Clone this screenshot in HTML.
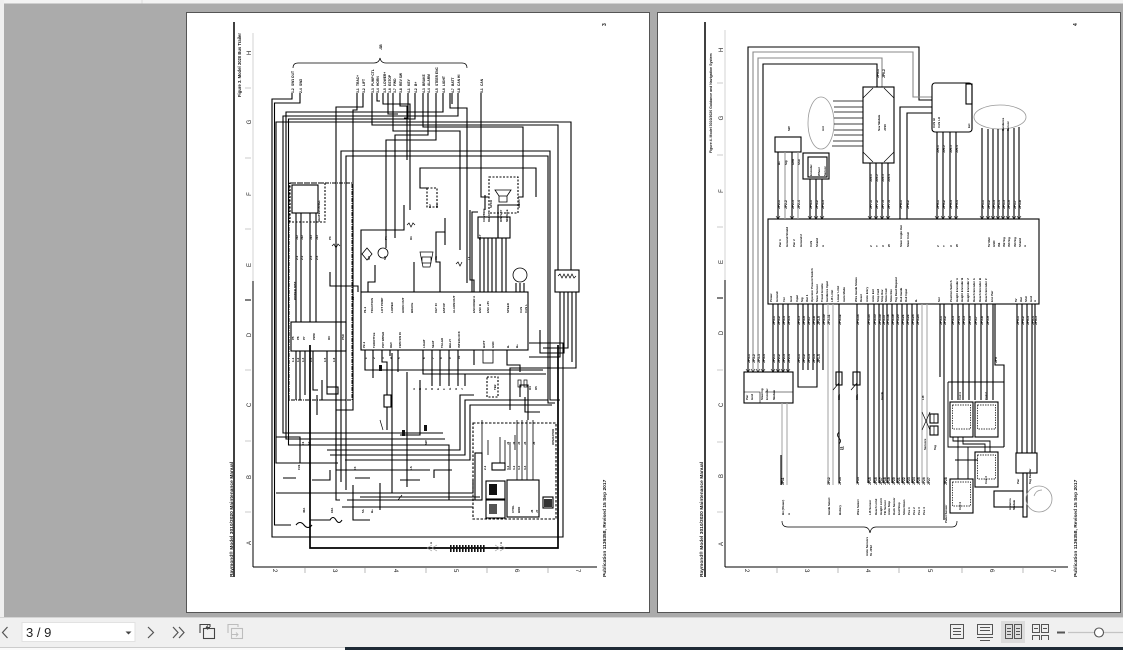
<!DOCTYPE html>
<html><head><meta charset="utf-8">
<style>
html,body{margin:0;padding:0;width:1123px;height:650px;overflow:hidden;background:#ababab;}
svg{display:block;}
text{font-family:"Liberation Sans",sans-serif;}
.t{font-size:3.3px;fill:#000;font-weight:bold;}
.s{font-size:2.9px;fill:#000;font-weight:bold;}
</style></head><body>
<svg width="1123" height="650" viewBox="0 0 1123 650" xmlns="http://www.w3.org/2000/svg">
<rect width="1123" height="650" fill="#ababab"/>
<rect x="0" y="0" width="1123" height="3.5" fill="#f3f3f3"/>
<rect x="0" y="0" width="4" height="617" fill="#efefef"/>
<line x1="142" y1="0" x2="142" y2="3.5" stroke="#ddd"/>

<!-- PAGES -->
<rect x="186.5" y="12.5" width="463" height="600" fill="#fff" stroke="#555"/>
<rect x="657.5" y="12.5" width="463" height="600" fill="#fff" stroke="#555"/>

<!-- ================= LEFT PAGE ================= -->
<g stroke="#000" fill="none">
<line x1="234" y1="22" x2="234" y2="577" stroke-width="1.5"/>
<line x1="253" y1="33" x2="253" y2="281" stroke="#c8c8c8" stroke-width="0.8"/>
<line x1="253" y1="281" x2="253" y2="567" stroke-width="1"/>
<line x1="253" y1="567" x2="597" y2="567" stroke-width="1"/>
<path d="M245 88H251M245 158H251M245 229H251M245 370H251M245 441H251M245 512H251" stroke="#bbb" stroke-width="0.8"/>
<path d="M245 300H251" stroke-width="1"/>
<path d="M305 568V573M365 568V573M426 568V573M487 568V573M548 568V573" stroke="#aaa" stroke-width="0.8"/>
</g>
<g font-size="6" fill="#222">
<text transform="translate(251,53) rotate(-90)" text-anchor="middle">H</text>
<text transform="translate(251,122) rotate(-90)" text-anchor="middle">G</text>
<text transform="translate(251,194) rotate(-90)" text-anchor="middle">F</text>
<text transform="translate(251,265) rotate(-90)" text-anchor="middle">E</text>
<text transform="translate(251,335) rotate(-90)" text-anchor="middle">D</text>
<text transform="translate(251,405) rotate(-90)" text-anchor="middle">C</text>
<text transform="translate(251,477) rotate(-90)" text-anchor="middle">B</text>
<text transform="translate(251,543) rotate(-90)" text-anchor="middle">A</text>
<text transform="translate(273,569) rotate(90)">2</text>
<text transform="translate(333,569) rotate(90)">3</text>
<text transform="translate(394,569) rotate(90)">4</text>
<text transform="translate(454,569) rotate(90)">5</text>
<text transform="translate(515,569) rotate(90)">6</text>
<text transform="translate(576,569) rotate(90)">7</text>
</g>
<text transform="translate(241,97) rotate(-90)" font-size="4.2" font-weight="bold" fill="#111">Figure 3. Model 3020 Bus Trailer</text>
<text transform="translate(233,577) rotate(-90)" font-size="4.9" font-weight="bold" fill="#111">Raymond® Model 3010/3020 Maintenance Manual</text>
<text transform="translate(606,577) rotate(-90)" font-size="4.9" font-weight="bold" fill="#111">Publication 1136358, Revised 15 Sep 2017</text>
<text transform="translate(606,26) rotate(-90)" font-size="5" font-weight="bold" fill="#111">3</text>

<!-- left diagram wires -->
<g stroke="#000" stroke-width="1.1" fill="none">
<path d="M293 68Q293 63 298 63H374Q379 63 380 58Q381 63 386 63H462Q467 63 467 68" stroke-width="0.7"/>
<path d="M292 93V99H272V537H563V343H529"/>
<path d="M300 93V103H274.5V525H291"/>
<path d="M458 93V116H283V433H443"/>
<path d="M571 270V122H276V463H338"/>
<path d="M443 93V112H286V439H445"/>
<path d="M372 93V125H558V270"/>
<path d="M415 93V119H288.5V445H449V500"/>
<path d="M357 93V110H353V410H336"/>
<path d="M363 93V107H336V470H430"/>
<path d="M341 482V151H550V400H560"/>
<path d="M346 490V156H548V403H555"/>
<path d="M423 93V127H523V197H518"/>
<path d="M428 93V135H395V238"/>
<path d="M436 93V140H386V248"/>
<path d="M450 93V108H467V283"/>
<path d="M481 93V197H489"/>
<path d="M536 197V168H420V188H427"/>
<path d="M377 93V101H380"/>
<path d="M383 93V104H410V210"/>
<path d="M388 93V114H398"/>
<path d="M393 93V131H460V250"/>
<path d="M400 93V106H407V160"/>
<path d="M408 93V118H404"/>
<path d="M452 93V104"/>
<!-- mid region -->
<path d="M361 292V230H404V205"/>
<path d="M358 292V286H330V272"/>
<path d="M368 292V282H375V265"/>
<path d="M414 292V262"/>
<path d="M440 292V262H436V232H445V218"/>
<path d="M472 292V212H478"/>
<path d="M485 195V210M498 217V205H520"/>
<path d="M445 245V232"/>
<path d="M474 292V280H470V210"/>
<path d="M480 238V292M484 238V292M488 238V292M492 238V292M496 238V292M502 238V292M506 238V292"/>
<path d="M560 292V357H529M564 292V353H540V330M568 292V348H543M572 292V362M576 292V368H510V395"/>
<path d="M516 283V292M520 283V292M524 283V292"/>
<path d="M296 213V322M301 213V322M310 213V322M316 213V322"/>
<path d="M296 351V400M300 351V400M305 351V395M313 351V390H318M327 351V387M336 351V380"/>
<path d="M322 380V400H345M317 395V415"/>
<!-- below main box -->
<path d="M365 350V370H543"/>
<path d="M373 350V378"/>
<path d="M382 350V362H387V395"/>
<path d="M390 350V356M398 350V372M407 372V487"/>
<path d="M423 350V374H546"/>
<path d="M432 350V386M440 350V386M449 350V386M458 350V386M465 374V386"/>
<path d="M392 353V493"/>
<path d="M387 407V430"/>
<path d="M420 380V435H400"/>
<path d="M474 350V365M507 350V365H520V372"/>
<path d="M327 450H460V395H474"/>
<path d="M330 455H465V400H548"/>
<path d="M345 460H470V405H552"/>
<path d="M276 437H300V463"/>
<path d="M276 493H473V480"/>
<path d="M360 497H480"/>
<path d="M347 500H482"/>
<path d="M342 507H473"/>
<path d="M296 463H338"/>
<path d="M520 397V385H528V420M510 395V410M525 397V412H540"/>
<path d="M312 480H330V470M355 478H370M400 480H420"/>
<path d="M353 485V520H370M380 483V510"/>
<path d="M434 478V470H452"/>
<path d="M310 345V548H558V345" stroke-width="1.7"/>
<path d="M336 380V500H340"/>
<path d="M283 478H296M296 525Q300 520 304 525Q308 530 312 525"/>
<path d="M310 520H330Q333 515 336 520Q339 525 342 520"/>
<path d="M427 548L432 545M427 548L432 551M432 548L437 545M432 548L437 551" stroke="#999" stroke-width="0.6"/>
<path d="M495 545L500 548L495 551M500 545L505 548L500 551" stroke="#999" stroke-width="0.6"/>
<!-- boxes -->
<rect x="290" y="183" width="35" height="39" stroke-dasharray="2,1.5"/>
<rect x="292" y="185" width="26" height="28"/>
<path d="M290 183H352V400H289V183" stroke-dasharray="4,1,1,1" stroke-width="0.9"/>
<rect x="291" y="322" width="55" height="29"/>
<rect x="327" y="387" width="11" height="7"/>
<rect x="384" y="395" width="7" height="12"/>
<rect x="361" y="292" width="167" height="58"/>
<rect x="555" y="270" width="24" height="22"/>
<path d="M558 276l2 -2l2 4l2 -4l2 4l2 -4l2 4l2 -4l2 4l2 -2" stroke-width="0.7"/>
<circle cx="520" cy="275" r="7" stroke-width="0.8"/>
<rect x="478" y="217" width="20" height="21"/>
<rect x="498" y="217" width="12" height="21"/>
<rect x="489" y="177" width="29" height="36" stroke-dasharray="2,1.5"/>
<path d="M495 190H511L507 196H499Z M499 196H507V202H499Z" stroke-width="0.8"/>
<rect x="427" y="188" width="10" height="19" stroke-dasharray="2,1.5"/>
<circle cx="383" cy="253" r="5" stroke-width="0.8"/>
<path d="M367 248L372 254L367 260L362 254Z" stroke-width="0.8"/>
<path d="M420 252H433L430 267H423Z M422 257H431V263H422Z" stroke-width="0.7"/>
<path d="M332 246l2 -2l2 4l2 -4l2 2" stroke-width="0.7"/>
<path d="M407 225l2 -2l2 4l2 -4l2 2M456 264l2 -2l2 4l2 -4" stroke-width="0.7"/>
<rect x="483" y="350" width="10" height="13" stroke-width="0.8"/>
<rect x="487" y="377" width="11" height="20" stroke-dasharray="2,1.5"/>
<rect x="518" y="380" width="3" height="7" stroke-width="0.7"/>
<rect x="524" y="380" width="3" height="7" stroke-width="0.7"/>
<rect x="473" y="423" width="83" height="96" stroke-dasharray="2.5,1.5"/>
<rect x="507" y="480" width="32" height="37"/>
<rect x="486" y="481" width="19" height="18"/>
<rect x="486" y="500" width="19" height="18"/>
<rect x="475" y="453" width="7" height="47"/>
<rect x="492" y="463" width="13" height="7"/>
<rect x="543" y="497" width="10" height="11"/>
<path d="M482 420V470M488 440V455M500 437V463M505 440V463M510 442V470M517 420V480M522 420V480M527 420V480M533 420V480M515 435V450" stroke-width="0.8"/>
<path d="M380 420L383 430M398 500L402 495" stroke-width="0.7"/>
</g>
<g fill="#111">
<rect x="489" y="484" width="8" height="11"/>
<rect x="489" y="504" width="8" height="10" fill="#555"/>
<rect x="544" y="499" width="8" height="8" fill="#333"/>
<rect x="450" y="545" width="1.6" height="7"/><rect x="453" y="545" width="1.6" height="7"/><rect x="456" y="545" width="1.6" height="7"/><rect x="459" y="545" width="1.6" height="7"/><rect x="462" y="545" width="1.6" height="7"/><rect x="465" y="545" width="1.6" height="7"/><rect x="468" y="545" width="1.6" height="7"/><rect x="471" y="545" width="1.6" height="7"/><rect x="474" y="545" width="1.6" height="7"/><rect x="477" y="545" width="1.6" height="7"/><rect x="480" y="545" width="1.6" height="7"/><rect x="483" y="545" width="1.6" height="7"/>
<rect x="379" y="365" width="3" height="6"/><rect x="402" y="430" width="3" height="6"/><rect x="424" y="425" width="3" height="6"/>
</g>
<!-- left labels -->
<text class="t" transform="translate(0,86) rotate(-90)"><tspan x="0" y="294">SW1 OUT</tspan><tspan x="0" y="302">SW2</tspan><tspan x="0" y="359">TRAC+</tspan><tspan x="0" y="365">LIFT</tspan><tspan x="0" y="374">PUMP CTL</tspan><tspan x="0" y="379">HORN</tspan><tspan x="0" y="386">LOWER+</tspan><tspan x="0" y="391">ESTOP</tspan><tspan x="0" y="396">FWD</tspan><tspan x="0" y="402">REV SW</tspan><tspan x="0" y="410">KEY</tspan><tspan x="0" y="417">B+</tspan><tspan x="0" y="425">BRAKE</tspan><tspan x="0" y="430">ALARM</tspan><tspan x="0" y="438">STEER ENC</tspan><tspan x="0" y="445">LIGHT</tspan><tspan x="0" y="454">BATT</tspan><tspan x="0" y="460">CAN HI</tspan><tspan x="0" y="483">CAN</tspan></text>
<text class="t" transform="translate(0,93) rotate(-90)"><tspan x="0" y="294">1-2</tspan><tspan x="0" y="302">2-4</tspan><tspan x="0" y="359">3-1</tspan><tspan x="0" y="365">3-2</tspan><tspan x="0" y="374">3-3</tspan><tspan x="0" y="379">3-4</tspan><tspan x="0" y="386">3-5</tspan><tspan x="0" y="391">3-6</tspan><tspan x="0" y="396">3-7</tspan><tspan x="0" y="402">3-8</tspan><tspan x="0" y="410">4-1</tspan><tspan x="0" y="417">4-2</tspan><tspan x="0" y="425">4-3</tspan><tspan x="0" y="430">4-4</tspan><tspan x="0" y="438">4-5</tspan><tspan x="0" y="445">4-6</tspan><tspan x="0" y="454">4-7</tspan><tspan x="0" y="460">4-8</tspan><tspan x="0" y="483">5-1</tspan></text>
<text class="t" transform="translate(382,50) rotate(-90)">-SB</text>
<text class="s" transform="translate(0,240) rotate(-90)"><tspan x="0" y="298">J12</tspan><tspan x="0" y="303">J12</tspan><tspan x="0" y="312">J13</tspan><tspan x="0" y="318">J13</tspan><tspan x="0" y="331">P3</tspan><tspan x="0" y="387">P4</tspan><tspan x="0" y="412">R1</tspan><tspan x="0" y="481">RLY</tspan></text>
<text class="s" transform="translate(0,260) rotate(-90)"><tspan x="0" y="298">2-1</tspan><tspan x="0" y="303">2-2</tspan><tspan x="0" y="312">2-3</tspan><tspan x="0" y="318">2-4</tspan><tspan x="0" y="370">M1</tspan><tspan x="0" y="386">M2</tspan><tspan x="0" y="437">K1</tspan><tspan x="0" y="470">L1</tspan></text>
<text class="s" transform="translate(0,222) rotate(-90)"><tspan x="0" y="320">HEATER PANEL</tspan><tspan x="0" y="485">CONTROL</tspan><tspan x="0" y="490">RELAY</tspan><tspan x="0" y="502">DISPLAY</tspan><tspan x="0" y="508">MODULE</tspan></text>
<text class="s" transform="translate(0,208) rotate(-90)"><tspan x="0" y="492">SPKR</tspan><tspan x="0" y="520">HORN</tspan><tspan x="0" y="431">K2</tspan><tspan x="0" y="438">CR</tspan></text>
<text class="s" transform="translate(0,313) rotate(-90)"><tspan x="0" y="366">P1-1</tspan><tspan x="0" y="373">TRACTION</tspan><tspan x="0" y="383">LIFT PUMP</tspan><tspan x="0" y="393">LOWER</tspan><tspan x="0" y="404">HORN OUT</tspan><tspan x="0" y="413">BRAKE</tspan><tspan x="0" y="437">KEY IN</tspan><tspan x="0" y="445">ESTOP</tspan><tspan x="0" y="455">ALARM OUT</tspan><tspan x="0" y="475">ENCODER A</tspan><tspan x="0" y="481">ENC B</tspan><tspan x="0" y="489">ENC +5V</tspan><tspan x="0" y="509">SPEED</tspan><tspan x="0" y="522">CAN</tspan><tspan x="0" y="527">CAN L</tspan></text>
<text class="s" transform="translate(0,348) rotate(-90)"><tspan x="0" y="365">P2-1</tspan><tspan x="0" y="375">THROTTLE</tspan><tspan x="0" y="384">POT WIPER</tspan><tspan x="0" y="392">REV</tspan><tspan x="0" y="401">FWD SW IN</tspan><tspan x="0" y="425">LIGHT</tspan><tspan x="0" y="434">SEAT</tspan><tspan x="0" y="443">TILLER</tspan><tspan x="0" y="451">BELLY</tspan><tspan x="0" y="460">INTERLOCK</tspan><tspan x="0" y="485">BATT</tspan><tspan x="0" y="494">GND</tspan><tspan x="0" y="509">B-</tspan><tspan x="0" y="518">B+</tspan></text>
<text class="s" transform="translate(0,359) rotate(-90)"><tspan x="0" y="367">1</tspan><tspan x="0" y="375">2</tspan><tspan x="0" y="384">3</tspan><tspan x="0" y="392">4</tspan><tspan x="0" y="400">5</tspan><tspan x="0" y="425">6</tspan><tspan x="0" y="434">7</tspan><tspan x="0" y="442">8</tspan><tspan x="0" y="451">9</tspan><tspan x="0" y="460">10</tspan></text>
<text class="s" transform="translate(0,340) rotate(-90)"><tspan x="0" y="294">P5</tspan><tspan x="0" y="299">P6</tspan><tspan x="0" y="305">P7</tspan><tspan x="0" y="315">PWR</tspan><tspan x="0" y="330">DC</tspan><tspan x="0" y="344">PSU</tspan></text>
<text class="s" transform="translate(0,362) rotate(-90)"><tspan x="0" y="294">1-1</tspan><tspan x="0" y="299">1-2</tspan><tspan x="0" y="304">1-3</tspan><tspan x="0" y="312">1-4</tspan><tspan x="0" y="326">1-5</tspan><tspan x="0" y="335">1-6</tspan></text>
<text class="s" transform="translate(0,390) rotate(-90)"><tspan x="0" y="415">A</tspan><tspan x="0" y="421">B</tspan><tspan x="0" y="427">C</tspan><tspan x="0" y="433">D</tspan><tspan x="0" y="439">E</tspan><tspan x="0" y="445">F</tspan><tspan x="0" y="451">G</tspan><tspan x="0" y="457">H</tspan><tspan x="0" y="463">J</tspan><tspan x="0" y="496">TB2</tspan><tspan x="0" y="531">R4</tspan><tspan x="0" y="537">R5</tspan></text>
<text class="s" transform="translate(0,300) rotate(-90)"><tspan x="0" y="296">POWER DIST</tspan><tspan x="0" y="354">J5</tspan></text>
<text class="s" transform="translate(0,445) rotate(-90)"><tspan x="0" y="509">J1</tspan><tspan x="0" y="515">J2</tspan><tspan x="0" y="520">J3</tspan><tspan x="0" y="526">J4</tspan><tspan x="0" y="535">J5</tspan><tspan x="0" y="554">OPERATOR</tspan><tspan x="0" y="304">F1</tspan><tspan x="0" y="310">F2</tspan><tspan x="0" y="427">SW</tspan></text>
<text class="s" transform="translate(0,470) rotate(-90)"><tspan x="0" y="486">2-1</tspan><tspan x="0" y="509">3-1</tspan><tspan x="0" y="515">3-2</tspan><tspan x="0" y="520">3-3</tspan><tspan x="0" y="526">3-4</tspan><tspan x="0" y="356">F3</tspan><tspan x="0" y="300">FU1</tspan><tspan x="0" y="412">LS</tspan></text>
<text class="s" transform="translate(0,513) rotate(-90)"><tspan x="0" y="514">CTRL</tspan><tspan x="0" y="520">BRD</tspan><tspan x="0" y="533">J6</tspan><tspan x="0" y="538">J7</tspan><tspan x="0" y="305">40A</tspan><tspan x="0" y="333">10A</tspan><tspan x="0" y="364">5A</tspan><tspan x="0" y="373">B+</tspan></text>
<text class="s" transform="translate(0,544) rotate(-90)"><tspan x="0" y="432">A</tspan><tspan x="0" y="502">A</tspan></text>

<!-- ================= RIGHT PAGE ================= -->
<g stroke="#000" fill="none">
<line x1="705" y1="22" x2="705" y2="577" stroke-width="1.5"/>
<line x1="725" y1="30" x2="725" y2="280" stroke="#c8c8c8" stroke-width="0.8"/>
<line x1="725" y1="280" x2="725" y2="567" stroke-width="1"/>
<line x1="725" y1="567" x2="1068" y2="567" stroke-width="1"/>
<path d="M717 83H723M717 155H723M717 227H723M717 370H723M717 442H723M717 512H723" stroke="#bbb" stroke-width="0.8"/>
<path d="M717 298H723" stroke-width="1"/>
<path d="M777 568V573M838 568V573M899 568V573M962 568V573M1023 568V573" stroke="#aaa" stroke-width="0.8"/>
</g>
<g font-size="6" fill="#222">
<text transform="translate(723,50) rotate(-90)" text-anchor="middle">H</text>
<text transform="translate(723,118) rotate(-90)" text-anchor="middle">G</text>
<text transform="translate(723,191) rotate(-90)" text-anchor="middle">F</text>
<text transform="translate(723,262) rotate(-90)" text-anchor="middle">E</text>
<text transform="translate(723,333) rotate(-90)" text-anchor="middle">D</text>
<text transform="translate(723,405) rotate(-90)" text-anchor="middle">C</text>
<text transform="translate(723,476) rotate(-90)" text-anchor="middle">B</text>
<text transform="translate(723,544) rotate(-90)" text-anchor="middle">A</text>
<text transform="translate(745,569) rotate(90)">2</text>
<text transform="translate(805,569) rotate(90)">3</text>
<text transform="translate(866,569) rotate(90)">4</text>
<text transform="translate(928,569) rotate(90)">5</text>
<text transform="translate(990,569) rotate(90)">6</text>
<text transform="translate(1051,569) rotate(90)">7</text>
</g>
<text transform="translate(712,153) rotate(-90)" font-size="3.5" font-weight="bold" fill="#111">Figure 4. Model 3010/3020 Guidance and Navigation System</text>
<text transform="translate(703,577) rotate(-90)" font-size="4.9" font-weight="bold" fill="#111">Raymond® Model 3010/3020 Maintenance Manual</text>
<text transform="translate(1077,577) rotate(-90)" font-size="4.9" font-weight="bold" fill="#111">Publication 1136358, Revised 15 Sep 2017</text>
<text transform="translate(1077,26) rotate(-90)" font-size="5" font-weight="bold" fill="#111">4</text>

<g stroke="#000" stroke-width="1.1" fill="none">
<path d="M932 100H919V47H748V372"/>
<path d="M932 97H913V52H753V372" stroke="#888"/>
<path d="M882 87V58H758V372" stroke="#888"/>
<path d="M877 87V64H763V372"/>
<rect x="744" y="372" width="49" height="31"/>
<rect x="768" y="219" width="271" height="85"/>
<rect x="863" y="87" width="31" height="76"/>
<path d="M863 98L873 88M894 98L884 88M863 152L873 162M894 152L884 162" stroke-width="0.7"/>
<ellipse cx="821" cy="123" rx="13" ry="26" stroke="#999" stroke-width="0.8"/>
<path d="M833 101H863M834 107H863M834 112H863M834 118H863M834 124H863M834 130H863M834 135H863M833 141H863M832 146H863" stroke-width="0.8"/>
<path d="M870 163V219M876 163V219M882 163V219M888 163V219"/>
<rect x="932" y="83" width="40" height="49" rx="3"/>
<rect x="966" y="84" width="6" height="20"/>
<path d="M900 219V107H932M907 219V113H932"/>
<path d="M937 132V219M943 132V219M950 132V219M956 132V219"/>
<ellipse cx="1000" cy="117" rx="26" ry="12" stroke="#999" stroke-width="0.8"/>
<path d="M982 128V219M988 129V219M993 129V219M998 129V219M1003 129V219M1008 129V219M1014 128V219M1019 127V219"/>
<rect x="775" y="137" width="26" height="15"/>
<path d="M778 152V219M792 152V219"/>
<path d="M785 152V219M798 152V219" stroke="#999"/>
<rect x="803" y="153" width="26" height="26"/>
<rect x="808" y="157" width="19" height="20"/>
<path d="M810 179V219M816 179V219M822 179V219"/>
<!-- below main box -->
<path d="M773 304V372M778 304V372M783 304V372M788 304V372"/>
<path d="M782 403V485M787 403V485" stroke="#aaa"/>
<path d="M781 455V485"/>
<path d="M798 304V387H817V304M803 304V370M808 304V370M813 304V370M823 304V370"/>
<path d="M828 304V485M833 304V485" stroke="#aaa"/>
<path d="M839 304V483M857 304V483"/>
<rect x="836" y="372" width="6" height="13"/>
<rect x="853" y="372" width="7" height="13"/>
<path d="M833 390L839 383M851 390L857 383" stroke-width="0.7"/>
<path d="M839 432Q836 435 839 438Q842 441 839 444" stroke-width="0.8"/>
<path d="M868 304V483M874 304V483M879 304V483M883 304V483M887 304V483M892 304V483M897 304V483M902 304V483M907 304V483M912 304V483M917 304V483"/>
<path d="M922 304V483M927 304V483" stroke="#aaa"/>
<rect x="930" y="414" width="8" height="9"/>
<rect x="930" y="426" width="8" height="9"/>
<path d="M934 414V423M934 426V435M922 412L930 430M930 412L922 430" stroke-width="0.7"/>
<path d="M940 304V377M944 304V520"/>
<path d="M952 304V400M958 304V400M963 304V400M969 304V400M975 304V400M981 304V400M987 304V400M993 304V400"/>
<path d="M995 304V365H1004V447"/>
<path d="M948 382H1004M948 382V447H1004" stroke-width="0.9"/>
<rect x="950" y="402" width="23" height="35"/>
<rect x="975" y="402" width="23" height="35"/>
<rect x="975" y="452" width="23" height="35"/>
<rect x="950" y="479" width="23" height="34"/>
<rect x="952.5" y="405" width="18" height="24" stroke-dasharray="1.5,1" stroke-width="0.7"/>
<rect x="977.5" y="405" width="18" height="24" stroke-dasharray="1.5,1" stroke-width="0.7"/>
<rect x="977.5" y="455" width="18" height="24" stroke-dasharray="1.5,1" stroke-width="0.7"/>
<rect x="952.5" y="482" width="18" height="24" stroke-dasharray="1.5,1" stroke-width="0.7"/>
<path d="M958 437V479M963 437V444H985V452M953 437V441H990V452M968 447V479M955 460H978" stroke-width="0.9"/>
<path d="M1017 304V453M1022 304V453M1027 304V453M1032 304V453M1035 304V453"/>
<rect x="1016" y="453" width="21" height="20"/>
<rect x="1023" y="473" width="4" height="44"/>
<rect x="994" y="491" width="29" height="16"/>
<circle cx="1039" cy="499" r="13" stroke="#999" stroke-width="0.8"/>
<path d="M1034 496Q1036 490 1042 490" stroke="#999" stroke-width="0.7"/>
<path d="M782 521Q782 527 788 527H864Q869 527 870 533Q871 527 876 527H952Q957 527 957 521" stroke-width="0.7"/>
<path d="M744 392H760V403M765 392H793" stroke-width="0.6"/>
<!-- arrow ticks at box edges -->
<path d="M776 216L778 219L780 216M790 216L792 219L794 216M808 216L810 219L812 216M814 216L816 219L818 216M820 216L822 219L824 216M868 216L870 219L872 216M874 216L876 219L878 216M880 216L882 219L884 216M886 216L888 219L890 216M935 216L937 219L939 216M941 216L943 219L945 216M948 216L950 219L952 216M954 216L956 219L958 216M980 216L982 219L984 216M986 216L988 219L990 216M991 216L993 219L995 216M996 216L998 219L1000 216M1001 216L1003 219L1005 216M1006 216L1008 219L1010 216M1012 216L1014 219L1016 216M1017 216L1019 219L1021 216" stroke-width="0.6"/>
<path d="M746 369L748 372L750 369M751 369L753 372L755 369M756 369L758 372L760 369M761 369L763 372L765 369M771 369L773 372L775 369M776 369L778 372L780 369M781 369L783 372L785 369M786 369L788 372L790 369" stroke-width="0.6"/>
</g>
<!-- right labels -->
<text class="t" transform="translate(0,78) rotate(-90)"><tspan x="0" y="879">JP6-1</tspan><tspan x="0" y="885">JP6-2</tspan></text>
<text class="s" transform="translate(0,131) rotate(-90)"><tspan x="0" y="790">SW</tspan><tspan x="0" y="824">Ant</tspan><tspan x="0" y="1004">Guidance</tspan><tspan x="0" y="1009">Sensor</tspan><tspan x="0" y="880">Nav Module</tspan><tspan x="0" y="886">JP10</tspan></text>
<text class="s" transform="translate(0,176) rotate(-90)"><tspan x="0" y="812">Encoder</tspan><tspan x="0" y="820">Wheel</tspan><tspan x="0" y="826">Sensor</tspan></text>
<text class="s" transform="translate(0,182) rotate(-90)"><tspan x="0" y="872">JP3-1</tspan><tspan x="0" y="878">JP3-2</tspan><tspan x="0" y="884">JP3-3</tspan><tspan x="0" y="890">JP3-4</tspan></text>
<text class="s" transform="translate(0,153) rotate(-90)"><tspan x="0" y="939">JP5-1</tspan><tspan x="0" y="945">JP5-2</tspan><tspan x="0" y="952">JP5-3</tspan><tspan x="0" y="958">JP5-4</tspan></text>
<text class="s" transform="translate(0,165) rotate(-90)"><tspan x="0" y="780">B+</tspan><tspan x="0" y="787">Sig</tspan><tspan x="0" y="794">Gnd</tspan><tspan x="0" y="800">Shd</tspan></text>
<text class="s" transform="translate(0,128) rotate(-90)"><tspan x="0" y="935">CAN HI</tspan><tspan x="0" y="940">CAN LO</tspan><tspan x="0" y="970">Ext</tspan></text>
<text class="t" transform="translate(0,209) rotate(-90)"><tspan x="0" y="780">JP2-1</tspan><tspan x="0" y="787">JP2-2</tspan><tspan x="0" y="794">JP2-3</tspan><tspan x="0" y="800">JP2-4</tspan><tspan x="0" y="812">JP4-1</tspan><tspan x="0" y="818">JP4-2</tspan><tspan x="0" y="824">JP4-3</tspan><tspan x="0" y="872">JP7-1</tspan><tspan x="0" y="878">JP7-2</tspan><tspan x="0" y="884">JP7-3</tspan><tspan x="0" y="890">JP7-4</tspan><tspan x="0" y="902">JP8-1</tspan><tspan x="0" y="909">JP8-2</tspan><tspan x="0" y="939">JP9-1</tspan><tspan x="0" y="945">JP9-2</tspan><tspan x="0" y="952">JP9-3</tspan><tspan x="0" y="958">JP9-4</tspan><tspan x="0" y="984">JP1-1</tspan><tspan x="0" y="990">JP1-2</tspan><tspan x="0" y="995">JP1-3</tspan><tspan x="0" y="1000">JP1-4</tspan><tspan x="0" y="1005">JP1-5</tspan><tspan x="0" y="1010">JP1-6</tspan><tspan x="0" y="1016">JP1-7</tspan><tspan x="0" y="1021">JP1-8</tspan></text>
<text class="s" transform="translate(0,247) rotate(-90)"><tspan x="0" y="781">Pwr 1</tspan><tspan x="0" y="788">Ground Shield</tspan><tspan x="0" y="795">Pwr 2</tspan><tspan x="0" y="802">Ground 2</tspan><tspan x="0" y="812">CAN</tspan><tspan x="0" y="818">Shield</tspan><tspan x="0" y="824">A</tspan><tspan x="0" y="872">Z</tspan><tspan x="0" y="878">Y</tspan><tspan x="0" y="884">X</tspan><tspan x="0" y="890">W</tspan><tspan x="0" y="902">Steer Angle Out</tspan><tspan x="0" y="909">Steer Cmd</tspan><tspan x="0" y="939">Z</tspan><tspan x="0" y="945">Y</tspan><tspan x="0" y="952">X</tspan><tspan x="0" y="958">W</tspan><tspan x="0" y="990">5V REF</tspan><tspan x="0" y="995">GND</tspan><tspan x="0" y="1000">IN1</tspan><tspan x="0" y="1005">IN2 Sig</tspan><tspan x="0" y="1010">IN3 Sig</tspan><tspan x="0" y="1016">IN4 Sig</tspan><tspan x="0" y="1021">Shield</tspan><tspan x="0" y="1026">A</tspan></text>
<text class="s" transform="translate(0,302) rotate(-90)"><tspan x="0" y="772">Power</tspan><tspan x="0" y="778">Ground</tspan><tspan x="0" y="785">Vcc</tspan><tspan x="0" y="792">Gnd</tspan><tspan x="0" y="798">Input</tspan><tspan x="0" y="803">Sig</tspan><tspan x="0" y="808">Out 1</tspan><tspan x="0" y="813">Operator Present Switch</tspan><tspan x="0" y="818">Steer Sensor</tspan><tspan x="0" y="823">Travel Enable</tspan><tspan x="0" y="828">Guidance Input</tspan><tspan x="0" y="833">Lift Limit</tspan><tspan x="0" y="839">Lower Limit</tspan><tspan x="0" y="845">Auto Mode</tspan><tspan x="0" y="857">Wire Guide Status</tspan><tspan x="0" y="862">Reset</tspan><tspan x="0" y="868">Aisle Entry</tspan><tspan x="0" y="874">Aisle Exit</tspan><tspan x="0" y="879">Stop Fwd</tspan><tspan x="0" y="883">Stop Rev</tspan><tspan x="0" y="887">Slow Fwd</tspan><tspan x="0" y="892">Slow Rev</tspan><tspan x="0" y="897">Tag Read Request</tspan><tspan x="0" y="902">Rail Guide</tspan><tspan x="0" y="907">Rail Input</tspan><tspan x="0" y="917">B-</tspan><tspan x="0" y="940">Sol</tspan><tspan x="0" y="952">Position Switch</tspan><tspan x="0" y="958">Height Encoder A</tspan><tspan x="0" y="963">Height Encoder B</tspan><tspan x="0" y="969">Height Encoder Z</tspan><tspan x="0" y="975">Reach Encoder A</tspan><tspan x="0" y="981">Reach Encoder B</tspan><tspan x="0" y="987">Reach Encoder Z</tspan><tspan x="0" y="993">Enc Pwr</tspan><tspan x="0" y="1017">5V</tspan><tspan x="0" y="1022">Out</tspan><tspan x="0" y="1027">Shd</tspan><tspan x="0" y="1032">Gnd</tspan><tspan x="0" y="1036">A</tspan></text>
<text class="t" transform="translate(0,325) rotate(-90)"><tspan x="0" y="775">JP3-1</tspan><tspan x="0" y="780">JP3-2</tspan><tspan x="0" y="785">JP3-3</tspan><tspan x="0" y="790">JP3-4</tspan><tspan x="0" y="800">JP3-5</tspan><tspan x="0" y="805">JP3-6</tspan><tspan x="0" y="810">JP3-7</tspan><tspan x="0" y="815">JP3-8</tspan><tspan x="0" y="820">JP3-9</tspan><tspan x="0" y="825">JP3-10</tspan><tspan x="0" y="830">JP3-11</tspan><tspan x="0" y="841">JP3-12</tspan><tspan x="0" y="859">JP3-13</tspan><tspan x="0" y="870">JP3-14</tspan><tspan x="0" y="876">JP3-15</tspan><tspan x="0" y="881">JP3-16</tspan><tspan x="0" y="885">JP3-17</tspan><tspan x="0" y="889">JP3-18</tspan><tspan x="0" y="894">JP3-19</tspan><tspan x="0" y="899">JP3-20</tspan><tspan x="0" y="904">JP3-21</tspan><tspan x="0" y="909">JP3-22</tspan><tspan x="0" y="914">JP3-23</tspan><tspan x="0" y="919">JP3-24</tspan><tspan x="0" y="942">JP5-1</tspan><tspan x="0" y="946">JP5-2</tspan><tspan x="0" y="954">JP5-3</tspan><tspan x="0" y="960">JP5-4</tspan><tspan x="0" y="965">JP5-5</tspan><tspan x="0" y="971">JP5-6</tspan><tspan x="0" y="977">JP5-7</tspan><tspan x="0" y="983">JP5-8</tspan><tspan x="0" y="989">JP5-9</tspan><tspan x="0" y="1019">JP6-1</tspan><tspan x="0" y="1024">JP6-2</tspan><tspan x="0" y="1029">JP6-3</tspan><tspan x="0" y="1034">JP6-4</tspan><tspan x="0" y="1037">JP6-5</tspan></text>
<text class="t" transform="translate(0,363) rotate(-90)"><tspan x="0" y="750">JP3-1</tspan><tspan x="0" y="755">JP3-2</tspan><tspan x="0" y="760">JP3-3</tspan><tspan x="0" y="765">JP3-4</tspan><tspan x="0" y="775">JP2-1</tspan><tspan x="0" y="780">JP2-2</tspan><tspan x="0" y="785">JP2-3</tspan><tspan x="0" y="790">JP2-4</tspan><tspan x="0" y="800">JP1-1</tspan><tspan x="0" y="805">JP1-2</tspan><tspan x="0" y="810">JP1-3</tspan><tspan x="0" y="815">JP1-4</tspan><tspan x="0" y="820">JP1-5</tspan><tspan x="0" y="997">JP9</tspan></text>
<text class="s" transform="translate(0,400) rotate(-90)"><tspan x="0" y="748">Pwr</tspan><tspan x="0" y="753">Gnd</tspan><tspan x="0" y="763">Steering</tspan><tspan x="0" y="768">Encoder</tspan><tspan x="0" y="775">Module</tspan><tspan x="0" y="840">SOL</tspan><tspan x="0" y="858">SOL</tspan><tspan x="0" y="883">Guide</tspan><tspan x="0" y="961">Coil 1</tspan><tspan x="0" y="987">Coil 2</tspan><tspan x="0" y="924">Lift</tspan></text>
<text class="s" transform="translate(0,484) rotate(-90)"><tspan x="0" y="987">Coil 3</tspan><tspan x="0" y="1031">Tag Reader</tspan><tspan x="0" y="1019">Pwr</tspan></text>
<text class="s" transform="translate(0,510) rotate(-90)"><tspan x="0" y="961">Coil 4</tspan><tspan x="0" y="1011">Antenna</tspan><tspan x="0" y="1015">Module</tspan></text>
<text class="s" transform="translate(0,450) rotate(-90)"><tspan x="0" y="842">F1</tspan><tspan x="0" y="844">5A</tspan><tspan x="0" y="936">Tag</tspan><tspan x="0" y="926">Sensors</tspan></text>
<text class="t" transform="translate(0,485) rotate(-90)"><tspan x="0" y="784">JP11</tspan><tspan x="0" y="830">JP12</tspan><tspan x="0" y="841">JP13</tspan><tspan x="0" y="859">JP14</tspan><tspan x="0" y="871">JP15</tspan><tspan x="0" y="877">JP16</tspan><tspan x="0" y="882">JP17</tspan><tspan x="0" y="886">JP18</tspan><tspan x="0" y="890">JP19</tspan><tspan x="0" y="895">JP20</tspan><tspan x="0" y="900">JP21</tspan><tspan x="0" y="905">JP22</tspan><tspan x="0" y="910">JP23</tspan><tspan x="0" y="915">JP24</tspan><tspan x="0" y="920">JP25</tspan><tspan x="0" y="925">JP26</tspan><tspan x="0" y="930">JP27</tspan><tspan x="0" y="947">JP28</tspan></text>
<text class="s" transform="translate(0,515) rotate(-90)"><tspan x="0" y="784">Bn (Power)</tspan><tspan x="0" y="790">A</tspan><tspan x="0" y="830">Guide Select</tspan><tspan x="0" y="841">Battery</tspan><tspan x="0" y="859">Wire Select</tspan><tspan x="0" y="871">Lift Sensor</tspan><tspan x="0" y="877">Reach Limit</tspan><tspan x="0" y="882">Height Limit</tspan><tspan x="0" y="886">Tilt Sensor</tspan><tspan x="0" y="890">Aisle Stop</tspan><tspan x="0" y="895">Rack Sensor</tspan><tspan x="0" y="900">End Stop</tspan><tspan x="0" y="905">Slow Down</tspan><tspan x="0" y="910">Pos 1</tspan><tspan x="0" y="915">Pos 2</tspan><tspan x="0" y="920">Pos 3</tspan><tspan x="0" y="925">Pos 4</tspan></text>
<text class="s" transform="translate(0,523) rotate(-90)"><tspan x="0" y="947">Pallet Sensor</tspan></text>
<text class="s" transform="translate(0,556) rotate(-90)"><tspan x="0" y="868">Aisle Sensors</tspan><tspan x="0" y="872">To JP12</tspan></text>

<!-- ================= TOOLBAR ================= -->
<rect x="0" y="617" width="1123" height="30" fill="#f0f0f0"/>
<line x1="0" y1="617.5" x2="1123" y2="617.5" stroke="#d4d4d4"/>
<rect x="0" y="647" width="345" height="3" fill="#fafafa"/>
<line x1="0" y1="647.5" x2="345" y2="647.5" stroke="#ccc"/>
<rect x="345" y="647" width="778" height="3" fill="#1f2b36"/>
<g fill="none" stroke="#555" stroke-width="1.2">
<polyline points="7.5,627 2.5,632.5 7.5,638"/>
<polyline points="148,627 153.5,632.5 148,638"/>
<polyline points="173,627 178,632.5 173,638"/>
<polyline points="179,627 184,632.5 179,638"/>
</g>
<rect x="22" y="622.5" width="113" height="19" fill="#fff" stroke="#e2e2e2"/>
<text x="26" y="637" font-size="13" fill="#222">3 / 9</text>
<path d="M125.5 631.5H131.5L128.5 634.5Z" fill="#444"/>
<g fill="none" stroke="#444" stroke-width="1.1">
<rect x="203.5" y="628.5" width="11" height="10"/>
<path d="M200 633V624.5H210V627"/>
<path d="M206 627.5H210M206 627.5L208 625.5M206 627.5L208 629.5" stroke-width="0.9"/>
</g>
<g fill="none" stroke="#bdbdbd" stroke-width="1.1">
<rect x="231.5" y="628.5" width="11" height="10"/>
<path d="M228 633V624.5H238V627"/>
<path d="M232 634.5H238M236 632.5L238 634.5L236 636.5" stroke-width="0.9"/>
</g>
<rect x="1001" y="621" width="24" height="22" fill="#dcdcdc"/>
<g fill="none" stroke="#555" stroke-width="1">
<rect x="950.5" y="624.5" width="13" height="14"/>
<path d="M953 628.5H961M953 631.5H961M953 634.5H961"/>
<rect x="977.5" y="624.5" width="15" height="10"/>
<path d="M980 627.5H990M980 630.5H990M977 637.5H993M980 640.5H990"/>
<rect x="1005.5" y="624.5" width="7" height="14"/>
<rect x="1014.5" y="624.5" width="7" height="14"/>
<path d="M1007 628.5H1011M1007 631.5H1011M1007 634.5H1011M1016 628.5H1020M1016 631.5H1020M1016 634.5H1020"/>
<rect x="1032.5" y="624.5" width="7" height="8"/>
<rect x="1041.5" y="624.5" width="7" height="8"/>
<path d="M1032.5 640V635.5H1039.5V640M1041.5 640V635.5H1048.5V640"/>
<path d="M1034 628.5H1038M1043 628.5H1047"/>
</g>
<line x1="1057" y1="632.5" x2="1065" y2="632.5" stroke="#555" stroke-width="2"/>
<line x1="1068" y1="632.5" x2="1123" y2="632.5" stroke="#c4c4c4" stroke-width="1.2"/>
<circle cx="1099" cy="632.5" r="4.5" fill="#fff" stroke="#555" stroke-width="1.1"/>
</svg>
</body></html>
